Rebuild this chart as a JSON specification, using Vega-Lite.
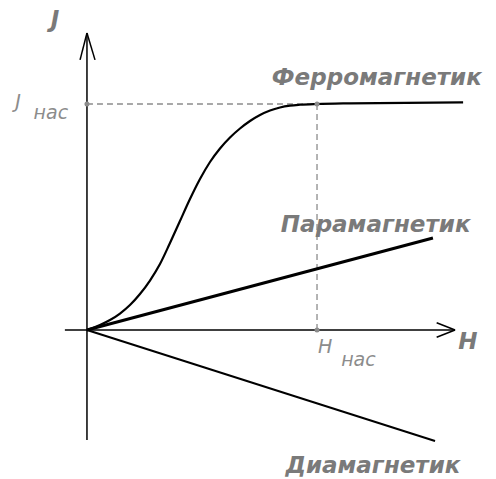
{
  "$schema": "https://vega.github.io/schema/vega-lite/v6.json",
  "width": 496,
  "height": 479,
  "padding": 0,
  "autosize": {"type": "fit", "contains": "padding"},
  "background": "white",
  "config": {"view": {"stroke": null}},
  "datasets": {
    "axes": [
      {"seg": "xaxis", "h": -0.96, "j": 0},
      {"seg": "xaxis", "h": 16.0, "j": 0},
      {"seg": "yaxis", "h": 0, "j": -4.87},
      {"seg": "yaxis", "h": 0, "j": 13.14},
      {"seg": "xa1", "h": 15.2, "j": 0.32},
      {"seg": "xa1", "h": 16.0, "j": 0},
      {"seg": "xa2", "h": 15.2, "j": -0.32},
      {"seg": "xa2", "h": 16.0, "j": 0},
      {"seg": "ya1", "h": -0.30, "j": 11.95},
      {"seg": "ya1", "h": 0, "j": 13.14},
      {"seg": "ya2", "h": 0.35, "j": 11.95},
      {"seg": "ya2", "h": 0, "j": 13.14}
    ],
    "guides": [
      {"seg": "jsat", "h": 0, "j": 10},
      {"seg": "jsat", "h": 10, "j": 10},
      {"seg": "hsat", "h": 10, "j": 0},
      {"seg": "hsat", "h": 10, "j": 10}
    ],
    "dots": [
      {"h": 0, "j": 10},
      {"h": 10, "j": 10},
      {"h": 10, "j": 0}
    ],
    "ferro": [
      {"i": 0, "h": 0, "j": 0},
      {"i": 1, "h": 0.565, "j": 0.221},
      {"i": 2, "h": 1.0, "j": 0.442},
      {"i": 3, "h": 1.435, "j": 0.730},
      {"i": 4, "h": 1.870, "j": 1.106},
      {"i": 5, "h": 2.304, "j": 1.593},
      {"i": 6, "h": 2.739, "j": 2.190},
      {"i": 7, "h": 3.174, "j": 2.920},
      {"i": 8, "h": 3.609, "j": 3.850},
      {"i": 9, "h": 4.043, "j": 4.823},
      {"i": 10, "h": 4.478, "j": 5.796},
      {"i": 11, "h": 4.913, "j": 6.681},
      {"i": 12, "h": 5.348, "j": 7.434},
      {"i": 13, "h": 5.783, "j": 8.031},
      {"i": 14, "h": 6.217, "j": 8.518},
      {"i": 15, "h": 6.652, "j": 8.916},
      {"i": 16, "h": 7.087, "j": 9.248},
      {"i": 17, "h": 7.522, "j": 9.513},
      {"i": 18, "h": 7.957, "j": 9.712},
      {"i": 19, "h": 8.391, "j": 9.845},
      {"i": 20, "h": 8.826, "j": 9.925},
      {"i": 21, "h": 9.261, "j": 9.965},
      {"i": 22, "h": 10.0, "j": 10.0},
      {"i": 23, "h": 11.43, "j": 10.03},
      {"i": 24, "h": 16.35, "j": 10.07}
    ],
    "para": [
      {"h": 0, "j": 0},
      {"h": 15.04, "j": 4.07}
    ],
    "dia": [
      {"h": 0, "j": 0},
      {"h": 15.13, "j": -4.91}
    ],
    "biglabels": [
      {"label": "J", "h": -1.39, "j": 13.7},
      {"label": "H", "h": 16.56, "j": -0.55},
      {"label": "Ферромагнетик", "h": 12.6, "j": 11.14},
      {"label": "Парамагнетик", "h": 12.55, "j": 4.65},
      {"label": "Диамагнетик", "h": 12.43, "j": -6.0}
    ],
    "mainsym": [
      {"label": "J", "h": -3.0, "j": 10.1},
      {"label": "H", "h": 10.35, "j": -0.75}
    ],
    "subs": [
      {"label": "нас", "h": -1.57, "j": 9.6},
      {"label": "нас", "h": 11.8, "j": -1.33}
    ]
  },
  "layer": [
    {
      "data": {"name": "guides"},
      "mark": {"type": "line", "color": "#8c8c8c", "strokeWidth": 1.3, "strokeDash": [6, 4]},
      "encoding": {
        "x": {"field": "h", "type": "quantitative", "scale": {"domain": [-3.78, 17.78], "nice": false, "zero": false}, "axis": null},
        "y": {"field": "j", "type": "quantitative", "scale": {"domain": [-6.59, 14.6], "nice": false, "zero": false}, "axis": null},
        "detail": {"field": "seg"}
      }
    },
    {
      "data": {"name": "axes"},
      "mark": {"type": "line", "color": "black", "strokeWidth": 1.5},
      "encoding": {
        "x": {"field": "h", "type": "quantitative"},
        "y": {"field": "j", "type": "quantitative"},
        "detail": {"field": "seg"}
      }
    },
    {
      "data": {"name": "ferro"},
      "mark": {"type": "line", "color": "black", "strokeWidth": 2.2, "interpolate": "monotone"},
      "encoding": {
        "x": {"field": "h", "type": "quantitative"},
        "y": {"field": "j", "type": "quantitative"},
        "order": {"field": "i"}
      }
    },
    {
      "data": {"name": "para"},
      "mark": {"type": "line", "color": "black", "strokeWidth": 3},
      "encoding": {
        "x": {"field": "h", "type": "quantitative"},
        "y": {"field": "j", "type": "quantitative"}
      }
    },
    {
      "data": {"name": "dia"},
      "mark": {"type": "line", "color": "black", "strokeWidth": 2},
      "encoding": {
        "x": {"field": "h", "type": "quantitative"},
        "y": {"field": "j", "type": "quantitative"}
      }
    },
    {
      "data": {"name": "dots"},
      "mark": {"type": "point", "filled": true, "color": "#8c8c8c", "size": 25, "opacity": 1},
      "encoding": {
        "x": {"field": "h", "type": "quantitative"},
        "y": {"field": "j", "type": "quantitative"}
      }
    },
    {
      "data": {"name": "biglabels"},
      "mark": {"type": "text", "color": "#7a7a7a", "font": "DejaVu Sans", "fontWeight": "bold", "fontStyle": "italic", "fontSize": 23, "align": "center", "baseline": "middle"},
      "encoding": {
        "x": {"field": "h", "type": "quantitative"},
        "y": {"field": "j", "type": "quantitative"},
        "text": {"field": "label"}
      }
    },
    {
      "data": {"name": "mainsym"},
      "mark": {"type": "text", "color": "#8c8c8c", "font": "DejaVu Sans", "fontWeight": 200, "fontStyle": "italic", "fontSize": 19, "align": "center", "baseline": "middle"},
      "encoding": {
        "x": {"field": "h", "type": "quantitative"},
        "y": {"field": "j", "type": "quantitative"},
        "text": {"field": "label"}
      }
    },
    {
      "data": {"name": "subs"},
      "mark": {"type": "text", "color": "#8c8c8c", "font": "DejaVu Sans", "fontWeight": 200, "fontStyle": "italic", "fontSize": 19, "align": "center", "baseline": "middle"},
      "encoding": {
        "x": {"field": "h", "type": "quantitative"},
        "y": {"field": "j", "type": "quantitative"},
        "text": {"field": "label"}
      }
    }
  ]
}
